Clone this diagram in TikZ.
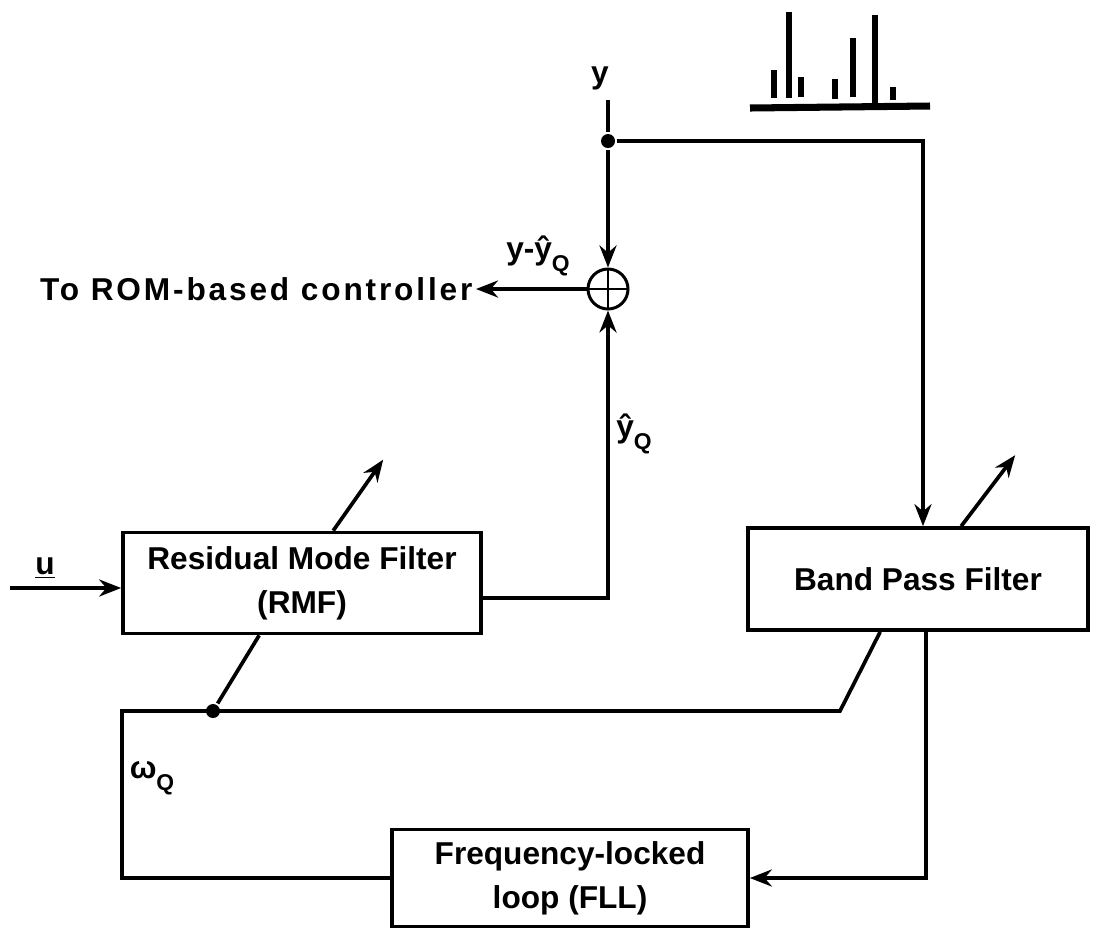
\documentclass[tikz,border=0pt]{standalone}
\usepackage{fontspec}
\setmainfont{Liberation Sans}
\usetikzlibrary{arrows.meta,positioning,calc}
\newcommand{\subq}{\raisebox{-0.7ex}{\fontsize{13}{13}\selectfont Q}}

\begin{document}
\begin{tikzpicture}[x=0.02cm,y=-0.02cm,
  font=\fontsize{18}{25}\selectfont\bfseries, line width=2.1pt,
  s/.style={rectangle,draw,align=center,inner sep=0pt,line width=2.1pt},
  ar/.style={-{Stealth[length=4.4mm,width=3.4mm]}},
  lbl/.style={inner sep=1pt},
  dot/.style={circle,fill,inner sep=0pt,minimum size=2.8mm},
  sumnode/.style={circle,draw,line width=1.7pt,minimum size=8mm,inner sep=0pt}
]
\useasboundingbox (0,0) rectangle (1099,941);
% blocks
\node[s,minimum width=7.16cm,minimum height=2.02cm] (rmf) at (302,583) {Residual Mode Filter\\(RMF)};
\node[s,minimum width=6.8cm,minimum height=2.04cm] (bpf) at (918,579) {Band Pass Filter};
\node[s,minimum width=7.12cm,minimum height=1.94cm] (fll) at (570,878) {Frequency-locked\\loop (FLL)};
\node[sumnode] (sum) at (608,289) {};
\draw[line width=1.3pt] (sum.north) -- (sum.south) (sum.west) -- (sum.east);
% labels
\node[lbl] (ylab) at (600,78) {y};
\node[lbl,anchor=east] (rom) at (476,289) {\addfontfeature{LetterSpace=9}To ROM-based controller};
\node[lbl] (err) at (538,256) {y-ŷ\subq};
\node[lbl] (yhat) at (634,434) {ŷ\subq};
\node[lbl] (ulab) at (45,568) {\underline{u}};
\node[lbl] (wq) at (152,778) {ω\subq};
% junctions
\node[dot] (j1) at (608,141) {};
\node[dot] (j2) at (213,711) {};
\coordinate (ytop) at (608,100);
\coordinate (tr) at (923,141);
\coordinate (uin) at (10,588);
\coordinate (lc) at (122,711);
\coordinate (rc) at (840,711);
% signal path
\draw (ytop) -- (j1);
\draw[ar] (j1) -- (sum.north);
\draw[ar] (j1) -- (tr) -- (tr |- bpf.north);
\draw[ar] (sum.west) -- (rom.east);
\draw[ar] (uin) -- (uin -| rmf.west);
\draw[ar] ($(rmf.east)+(0,15)$) -| (sum.south);
\draw[ar] ($(bpf.south west)+(180,0)$) |- (fll.east);
\draw (fll.west) -| (lc) -- (rc) -- ($(bpf.south west)+(134,0)$);
\draw (j2) -- ($(rmf.south west)+(138,0)$);
% tuning arrows
\draw[ar] ($(rmf.north west)+(212,0)$) -- ++(50,-71);
\draw[ar] ($(bpf.north west)+(215,0)$) -- ++(54,-71);
% spectrum sketch
\foreach \x/\t/\b in {774/70/98, 789/12/98, 801/77/97, 835/79/99, 853/38/97, 875/15/107, 893/87/100}
  \draw[line width=3.2pt] (\x,\t) -- (\x,\b);
\draw[line width=4pt] (750,108) -- (930,106);
\end{tikzpicture}
\end{document}
